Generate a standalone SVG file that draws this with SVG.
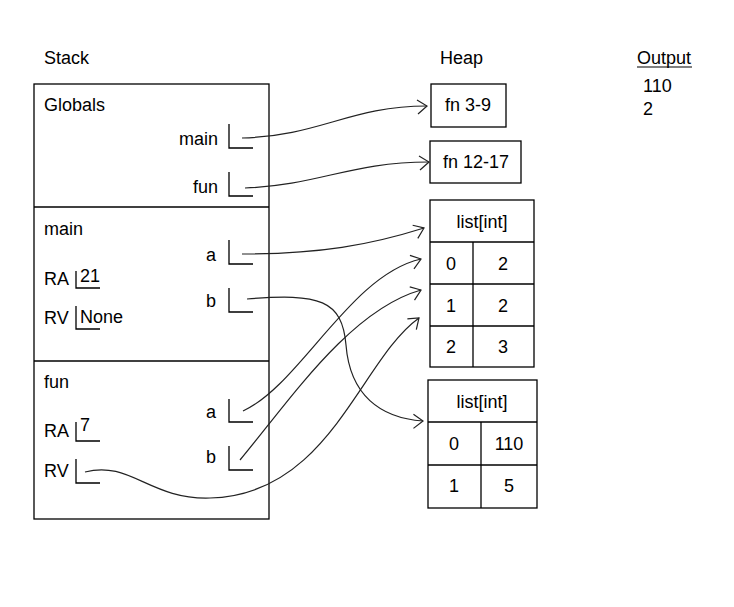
<svg xmlns="http://www.w3.org/2000/svg" width="734" height="607" viewBox="0 0 734 607">
<style>
text{font-family:"Liberation Sans",Arial,sans-serif;font-size:18px;fill:#000}
.box{fill:#fff;stroke:#000;stroke-width:1.3}
.ln{fill:none;stroke:#000;stroke-width:1.3}
.c{text-anchor:middle}
.r{text-anchor:end}
.con{fill:none;stroke:#222;stroke-width:1.2;marker-end:url(#ah)}
</style>
<defs>
<marker id="ah" markerUnits="userSpaceOnUse" markerWidth="20" markerHeight="20" viewBox="-12 -10 14 20" refX="0" refY="0" orient="auto">
<path d="M-10,-6 L0,0 L-9,8" fill="none" stroke="#222" stroke-width="1.2"/>
</marker>
</defs>
<rect width="734" height="607" fill="#fff"/>
<g id="titles">
<text x="44" y="64">Stack</text>
<text x="440" y="64">Heap</text>
<text x="637" y="64">Output</text>
<line x1="637" y1="67" x2="692" y2="67" stroke="#000" stroke-width="1.2"/>
<text x="643" y="92">110</text>
<text x="643" y="115">2</text>
</g>
<g id="stack">
<rect class="box" x="34" y="84" width="235" height="435"/>
<line class="ln" x1="34" y1="207" x2="269" y2="207"/>
<line class="ln" x1="34" y1="361" x2="269" y2="361"/>
</g>
<g id="globals">
<text x="44" y="111">Globals</text>
<text class="r" x="218" y="145">main</text>
<path class="ln" d="M229,124 V148 H253"/>
<text class="r" x="218" y="193">fun</text>
<path class="ln" d="M229,172 V196 H253"/>
</g>
<g id="frame-main">
<text x="44" y="235">main</text>
<text class="r" x="216" y="261">a</text>
<path class="ln" d="M229,240 V264 H253"/>
<text class="r" x="216" y="307">b</text>
<path class="ln" d="M229,288 V312 H253"/>
<text x="44" y="285">RA</text>
<path class="ln" d="M76,271 V288 H100"/>
<text x="80" y="282">21</text>
<text x="44" y="324">RV</text>
<path class="ln" d="M76,306 V329 H100"/>
<text x="80" y="323">None</text>
</g>
<g id="frame-fun">
<text x="44" y="388">fun</text>
<text class="r" x="216" y="418">a</text>
<path class="ln" d="M229,399 V422 H253"/>
<text class="r" x="216" y="463">b</text>
<path class="ln" d="M229,446 V470 H253"/>
<text x="44" y="437">RA</text>
<path class="ln" d="M76,422 V441 H100"/>
<text x="80" y="431">7</text>
<text x="44" y="477">RV</text>
<path class="ln" d="M76,459 V483 H100"/>
</g>
<g id="fn-3-9">
<rect class="box" x="431" y="84" width="75" height="43"/>
<text class="c" x="468" y="111">fn 3-9</text>
</g>
<g id="fn-12-17">
<rect class="box" x="430" y="141" width="91" height="42"/>
<text class="c" x="476" y="168">fn 12-17</text>
</g>
<g id="list1">
<rect class="box" x="430" y="200" width="104" height="167"/>
<line class="ln" x1="430" y1="242" x2="534" y2="242"/>
<line class="ln" x1="430" y1="284" x2="534" y2="284"/>
<line class="ln" x1="430" y1="326" x2="534" y2="326"/>
<line class="ln" x1="473" y1="242" x2="473" y2="367"/>
<text class="c" x="482" y="228">list[int]</text>
<text class="c" x="451" y="270">0</text>
<text class="c" x="503" y="270">2</text>
<text class="c" x="451" y="312">1</text>
<text class="c" x="503" y="312">2</text>
<text class="c" x="451" y="353">2</text>
<text class="c" x="503" y="353">3</text>
</g>
<g id="list2">
<rect class="box" x="428" y="380" width="109" height="128"/>
<line class="ln" x1="428" y1="422" x2="537" y2="422"/>
<line class="ln" x1="428" y1="465" x2="537" y2="465"/>
<line class="ln" x1="481" y1="422" x2="481" y2="508"/>
<text class="c" x="482" y="408">list[int]</text>
<text class="c" x="454" y="450">0</text>
<text class="c" x="509" y="450">110</text>
<text class="c" x="454" y="492">1</text>
<text class="c" x="509" y="492">5</text>
</g>
<g id="connectors">
<path class="con" d="M242,138 C320,136 350,106 427,106"/>
<path class="con" d="M245,188 C320,185 350,162 429,162"/>
<path class="con" d="M242,254 C320,254 370,245 424,228"/>
<path class="con" d="M247,299 C320,293 342,300 346,345 C350,395 380,418 423,421"/>
<path class="con" d="M243,411 C300,385 350,275 421,259"/>
<path class="con" d="M240,460 C290,400 350,310 421,290"/>
<path class="con" d="M85,472 C130,460 150,500 210,498 C330,495 360,360 419,318"/>
</g>
</svg>
